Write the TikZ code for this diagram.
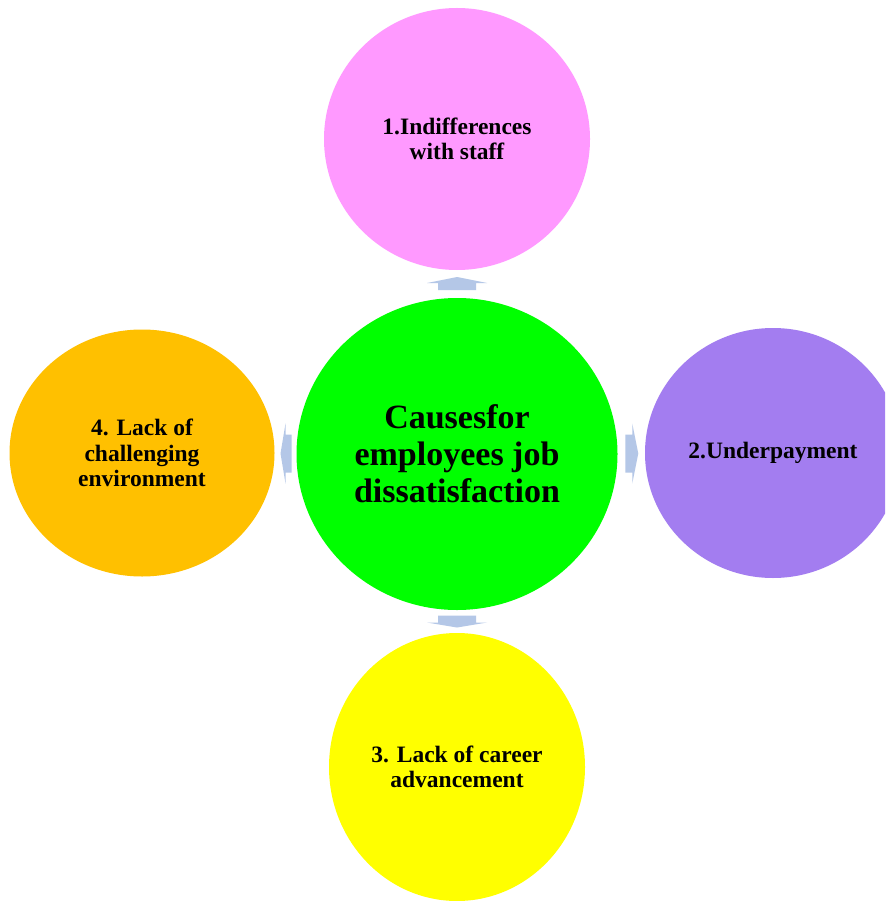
\documentclass[tikz,border=0pt]{standalone}
\usepackage{fontspec}
\setmainfont{Liberation Serif}
\usetikzlibrary{calc,shapes.geometric}
\definecolor{cpink}{RGB}{255,153,255}
\definecolor{cgreen}{RGB}{0,255,0}
\definecolor{cpurple}{RGB}{163,125,240}
\definecolor{corange}{RGB}{255,192,0}
\definecolor{cyellow}{RGB}{255,255,0}
\definecolor{carrow}{RGB}{180,199,231}
\begin{document}
\begin{tikzpicture}[x=1pt,y=-1pt,
  bubble/.style={ellipse, inner sep=0pt, font=\bfseries\fontsize{23.5}{25.5}\selectfont, align=center, text=black},
  blockarrow/.style={fill=carrow, draw=none}]
\useasboundingbox (0,0) rectangle (885,901);
\clip (0,0) rectangle (885,901);
\path[fill=white] (0,0) rectangle (885,901);
\node[bubble, fill=cpink, minimum width=266, minimum height=262] (top) at (457,139) {1.Indifferences\\with staff};
\node[bubble, fill=cgreen, minimum width=321, minimum height=312, font=\bfseries\fontsize{34}{37}\selectfont] (mid) at (457,454) {Causesfor\\employees job\\dissatisfaction};
\node[bubble, fill=cpurple, minimum width=256, minimum height=250] (right) at (773,453) {2.Underpayment};
\node[bubble, fill=corange, minimum width=265, minimum height=247] (left) at (142,453) {4. Lack of\\challenging\\environment};
\node[bubble, fill=cyellow, minimum width=256, minimum height=268] (bot) at (457,767) {3. Lack of career\\advancement};
% block arrows
\coordinate (mt) at ($(mid.north)!0.5!(top.south)$);
\coordinate (mb) at ($(mid.south)!0.5!(bot.north)$);
\coordinate (ml) at ($(mid.west)!0.5!(left.east)$);
\coordinate (mr) at ($(mid.east)!0.5!(right.west)$);
\fill[blockarrow] ($(mt)+(-19,6)$) -- ($(mt)+(-19,-1)$) -- ($(mt)+(-30,-1)$) -- ($(mt)+(0,-7)$) -- ($(mt)+(30,-1)$) -- ($(mt)+(19,-1)$) -- ($(mt)+(19,6)$) -- cycle;
\fill[blockarrow] ($(mb)+(-19,-6)$) -- ($(mb)+(-19,1)$) -- ($(mb)+(-30,1)$) -- ($(mb)+(0,6)$) -- ($(mb)+(30,1)$) -- ($(mb)+(19,1)$) -- ($(mb)+(19,-6)$) -- cycle;
\fill[blockarrow] ($(ml)+(6,-19)$) -- ($(ml)+(0,-19)$) -- ($(ml)+(0,-30)$) -- ($(ml)+(-5,0)$) -- ($(ml)+(0,30)$) -- ($(ml)+(0,19)$) -- ($(ml)+(6,19)$) -- cycle;
\fill[blockarrow] ($(mr)+(-6,-19)$) -- ($(mr)+(1,-19)$) -- ($(mr)+(1,-30)$) -- ($(mr)+(7,0)$) -- ($(mr)+(1,30)$) -- ($(mr)+(1,19)$) -- ($(mr)+(-6,19)$) -- cycle;
\end{tikzpicture}
\end{document}
